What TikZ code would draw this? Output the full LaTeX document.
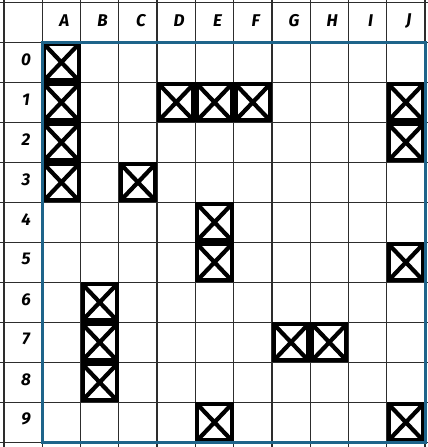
\documentclass[tikz,border=0pt]{standalone}
\usepackage{fontspec}
\setmainfont{Fira Sans}
\definecolor{bordblue}{RGB}{30,100,138}
\definecolor{gridgray}{RGB}{45,45,45}
\begin{document}
\begin{tikzpicture}[x=1pt,y=-1pt,
  gridline/.style={draw=gridgray,line width=1.3pt},
  markbox/.style={draw=black,line width=4pt},
  markx/.style={draw=black,line width=4.2pt},
  headlabel/.style={font=\fontsize{17}{17}\selectfont\bfseries\itshape,inner sep=0pt},
  outline/.style={draw=bordblue,line width=3pt}]
\useasboundingbox (0,0) rectangle (428,447);
\fill[white] (0,0) rectangle (428,447);
% grid
\foreach \k in {0,...,11}{
  \draw[gridline] ({4+38.27*\k},0) -- ({4+38.27*\k},447);
}
\draw[gridline] (0,2.7) -- (428,2.7);
\foreach \r in {0,...,10}{
  \draw[gridline] (0,{42.3+40*\r}) -- (428,{42.3+40*\r});
}
% marks
\foreach \c/\r in {0/0,0/1,3/1,4/1,5/1,9/1,0/2,9/2,0/3,2/3,4/4,4/5,9/5,1/6,1/7,6/7,7/7,1/8,4/9,9/9}{
  \pgfmathsetmacro\xl{4+38.27*(\c+1)+2}
  \pgfmathsetmacro\xr{4+38.27*(\c+2)-2}
  \pgfmathsetmacro\yt{42.3+40*\r+2}
  \pgfmathsetmacro\yb{42.3+40*(\r+1)-2}
  \draw[markx] (\xl,\yt) -- (\xr,\yb) (\xl,\yb) -- (\xr,\yt);
  \draw[markbox] (\xl,\yt) rectangle (\xr,\yb);
}
% outline
\draw[outline] (42.27,42.3) rectangle (425,442.3);
% column labels
\foreach \t [count=\i from 1] in {A,B,C,D,E,F,G,H,I,J}{
  \node[headlabel] (col\t) at ({4+38.27*\i+19.1+3},21) {\t};
}
% row labels
\foreach \t in {0,...,9}{
  \node[headlabel] (row\t) at (26,{42.3+40*\t+20-3}) {\t};
}
\end{tikzpicture}
\end{document}
